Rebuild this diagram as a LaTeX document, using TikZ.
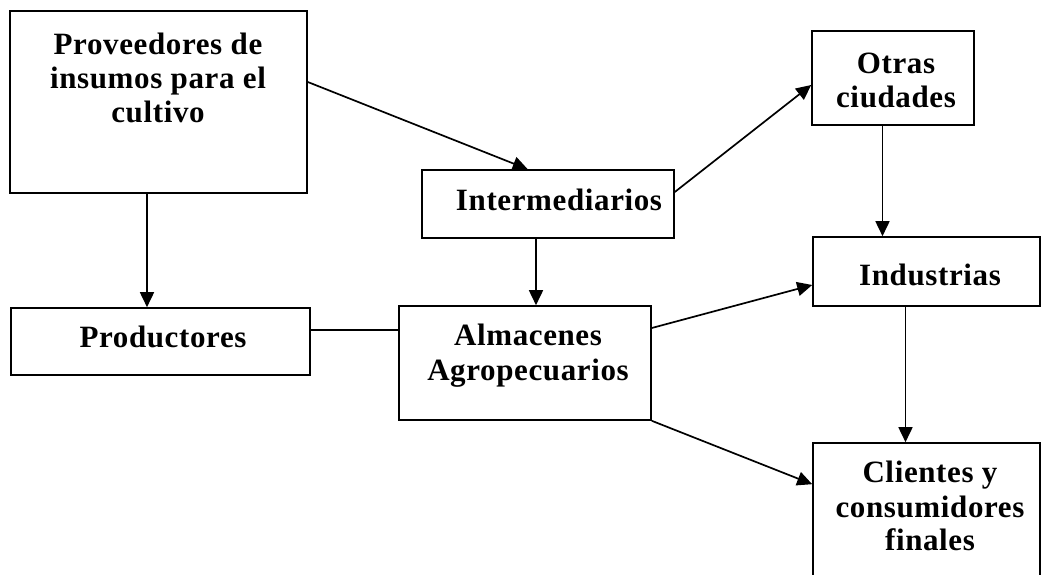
\documentclass[tikz,border=0pt]{standalone}
\usepackage{fontspec}
\setmainfont{Liberation Serif}[LetterSpace=2]
\usetikzlibrary{arrows.meta,calc}
\begin{document}
\begin{tikzpicture}[x=1pt,y=-1pt,
  box/.style={draw=black,line width=1.6pt,rectangle,inner sep=0pt},
  txt/.style={anchor=base,inner sep=0pt,font=\fontsize{31}{34}\selectfont\bfseries},
  arr/.style={line width=1.7pt,-{Triangle[length=15pt,width=14pt]}},
  ln/.style={line width=1.6pt}]
\useasboundingbox (0,0) rectangle (1042,575);
\begin{scope}
\clip (0,0) rectangle (1042,575);
% boxes
\node[box,minimum width=297pt,minimum height=182pt] (prov) at (158.5,102) {};
\node[box,minimum width=252pt,minimum height=68pt] (inter) at (548,204) {};
\node[box,minimum width=162pt,minimum height=94pt] (otras) at (893,78) {};
\node[box,minimum width=227pt,minimum height=69pt] (indus) at (926.5,271.5) {};
\node[box,minimum width=299pt,minimum height=67pt] (prod) at (160.5,341.5) {};
\node[box,minimum width=252pt,minimum height=114pt] (alm) at (525,363) {};
\node[box,minimum width=227pt,minimum height=140pt] (cli) at (926.5,513) {};
\end{scope}
% texts
\node[txt] (t1) at (158,55) {Proveedores de};
\node[txt] (t2) at (158,89) {insumos para el};
\node[txt] (t3) at (158,123) {cultivo};
\node[txt] (t4) at (559,211) {Intermediarios};
\node[txt] (t5) at (896,74) {Otras};
\node[txt] (t6) at (896,108) {ciudades};
\node[txt] (t7) at (930,285) {Industrias};
\node[txt] (t8) at (163,347) {Productores};
\node[txt] (t9) at (528,345) {Almacenes};
\node[txt] (t10) at (528,380) {Agropecuarios};
\node[txt] (t11) at (930,482) {Clientes y};
\node[txt] (t12) at (930,517) {consumidores};
\node[txt] (t13) at (930,550) {finales};
% connectors
\draw[arr] ([yshift=20pt]prov.east) -- ($(inter.north west)!0.42!(inter.north east)$);
\draw[arr] ([xshift=-11.5pt]prov.south) -- ([xshift=-11.5pt]prov.south |- prod.north);
\draw[arr] ([xshift=-12pt]inter.south) -- ([xshift=-12pt]inter.south |- alm.north);
\draw[arr] ([yshift=12pt]inter.east) -- ([yshift=-7pt]otras.west);
\draw[ln] ([yshift=11.5pt]prod.east) -- ([yshift=11.5pt]prod.east -| alm.west);
\draw[arr] ([yshift=35pt]alm.east) -- ([yshift=-13.5pt]indus.west);
\draw[arr] (alm.south east) -- ([yshift=-42pt]cli.north west);
\draw[arr] ([xshift=-10.5pt]otras.south) -- ([xshift=-10.5pt]otras.south |- indus.north);
\draw[arr] ([xshift=-21pt]indus.south) -- ([xshift=-21pt]indus.south |- cli.north);
\end{tikzpicture}
\end{document}
